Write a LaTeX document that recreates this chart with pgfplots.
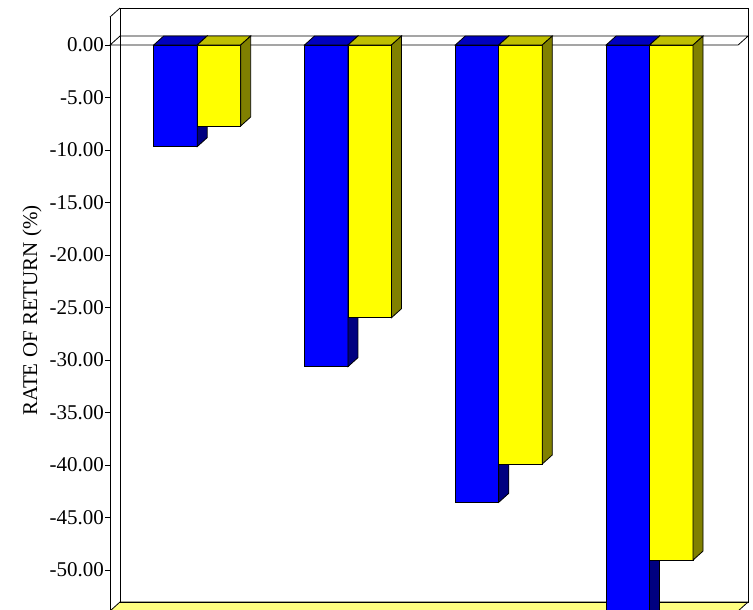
\documentclass[border=0pt]{standalone}
\usepackage{pgfplots}
\pgfplotsset{compat=1.18}
\usepackage{pgfplotstable}
\usepackage{fontspec}
\setmainfont{Liberation Serif}

\definecolor{bluefront}{HTML}{0000FF}
\definecolor{bluetop}{HTML}{0000C0}
\definecolor{blueside}{HTML}{000080}
\definecolor{yelfront}{HTML}{FFFF00}
\definecolor{yeltop}{HTML}{C0C000}
\definecolor{yelside}{HTML}{808000}
\definecolor{floorfill}{HTML}{FFFF80}

% rate of return per category, two series
\pgfplotstableread{
g v
0 -9.68
1 -30.63
2 -43.55
3 -56.00
}\seriesA
\pgfplotstableread{
g v
0 -7.71
1 -25.97
2 -39.90
3 -49.05
}\seriesB

\newcommand\yu{10.5}% pt per percentage point
\pgfdeclareplotmark{nothing}{}

% a 3D bar drawn as a marker at (category, value):
% #1 left offset, #2 width, #3 front, #4 top, #5 side colour
\pgfplotsset{
  bar3d/.style n args={5}{
    only marks, mark=nothing, scatter,
    visualization depends on={rawy \as \rawv},
    scatter/@pre marker code/.code={%
      \pgfmathsetlengthmacro\h{-\rawv*\yu pt}%
      \filldraw[fill=#3,draw=black,line width=0.8pt]
        (#1,0pt) rectangle ++(#2,\h);
      \filldraw[fill=#4,draw=black,line width=0.8pt]
        (#1,\h) -- ++(#2,0pt) -- ++(10pt,9pt) -- ++(-#2,0pt) -- cycle;
      \filldraw[fill=#5,draw=black,line width=0.8pt]
        (#1,0pt) ++(#2,0pt) -- ++(0pt,\h) -- ++(10pt,9pt) -- ++(0pt,-\h) -- cycle;
    },
    scatter/@post marker code/.code={},
  },
}

\begin{document}
\begin{tikzpicture}
\useasboundingbox (0,0) rectangle (753pt,610pt);
\clip (0,0) rectangle (753pt,610pt);
\begin{axis}[
  at={(110pt,-1pt)}, anchor=south west,
  x=150.8pt, y=10.5pt,
  xmin=-0.578, xmax=3.587, ymin=-53.9, ymax=2.667,
  clip=false,
  axis x line=none, axis y line*=left,
  y axis line style={black, line width=0.8pt},
  ytick={-50,-45,...,0},
  tick align=outside, major tick length=5pt,
  tick style={black, line width=0.8pt},
  yticklabel style={font=\fontsize{21}{24}\selectfont, inner sep=1pt,
    /pgf/number format/.cd, fixed, fixed zerofill, precision=2, assume math mode=true},
  ylabel={RATE OF RETURN (\%)},
  ylabel style={font=\fontsize{21}{24}\selectfont, at={(rel axis cs:-0.124,0.506)}, anchor=center},
]
  % floor
  \filldraw[fill=floorfill, draw=black, line width=0.8pt]
    (rel axis cs:0,0) -- (rel axis cs:1,0) -- ++(10pt,9pt)
    -- ([shift={(10pt,9pt)}]rel axis cs:0,0) -- cycle;
  % back wall and top-left edge
  \draw[black, line width=0.8pt]
    ([shift={(10pt,9pt)}]rel axis cs:0,0) rectangle ([shift={(10pt,9pt)}]rel axis cs:1,1);
  \draw[black, line width=0.8pt] (rel axis cs:0,1) -- ++(10pt,9pt);
  % zero plane
  \draw[black, line width=0.8pt]
    (axis cs:-0.578,0) -- (axis cs:3.587,0) -- ++(10pt,9pt)
    -- ([shift={(10pt,9pt)}]axis cs:-0.578,0) -- cycle;

  \addplot[bar3d={-43.5pt}{43.5pt}{bluefront}{bluetop}{blueside}] table[x=g,y=v] {\seriesA};
  \addplot[bar3d={0pt}{43.5pt}{yelfront}{yeltop}{yelside}] table[x=g,y=v] {\seriesB};
\end{axis}
\end{tikzpicture}
\end{document}
